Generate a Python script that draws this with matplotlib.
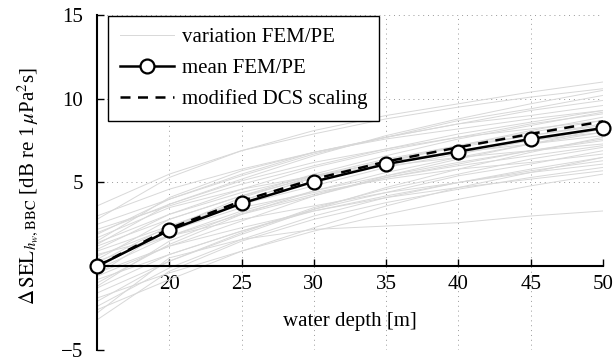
import matplotlib
matplotlib.use("Agg")
import matplotlib.pyplot as plt

plt.rcParams['font.family'] = ['Liberation Serif', 'DejaVu Serif']
plt.rcParams['mathtext.fontset'] = 'stix'
plt.rcParams['font.size'] = 15

# water depth [m]
depth = [15, 20, 25, 30, 35, 40, 45, 50]

# mean over all FEM/PE runs
mean_fem = [0.0, 2.15, 3.75, 5.05, 6.1, 6.85, 7.6, 8.25]

# modified DCS scaling
dcs = [0.0, 2.25, 3.9, 5.2, 6.25, 7.1, 7.9, 8.65]

# individual FEM/PE runs (variation)
variation = [
    [3.6, 5.5, 6.9, 8.1, 9.0, 9.7, 10.4, 11.0],
    [2.8, 5.3, 6.9, 7.9, 8.8, 9.5, 10.1, 10.6],
    [2.5, 4.0, 5.4, 6.7, 7.7, 8.7, 9.4, 10.2],
    [1.9, 4.0, 5.5, 6.8, 7.7, 8.5, 9.3, 9.9],
    [1.5, 4.1, 5.7, 6.8, 7.7, 8.5, 9.0, 9.6],
    [2.2, 3.6, 4.9, 6.0, 7.0, 7.9, 8.6, 9.3],
    [1.0, 3.1, 4.6, 5.9, 6.9, 7.7, 8.5, 9.1],
    [0.6, 2.3, 3.8, 5.1, 6.2, 7.2, 8.1, 8.9],
    [1.3, 3.7, 5.1, 6.2, 7.0, 7.7, 8.2, 8.7],
    [0.2, 2.4, 3.9, 5.3, 6.3, 7.1, 7.8, 8.5],
    [-0.5, 2.3, 4.1, 5.4, 6.4, 7.2, 7.8, 8.4],
    [0.9, 2.4, 3.7, 4.8, 5.9, 6.7, 7.5, 8.2],
    [-1.0, 1.3, 3.1, 4.5, 5.6, 6.5, 7.3, 8.0],
    [0.4, 2.8, 4.2, 5.3, 6.1, 6.8, 7.3, 7.8],
    [-1.6, 0.3, 1.9, 3.4, 4.7, 5.8, 6.8, 7.7],
    [-0.2, 1.8, 3.3, 4.5, 5.4, 6.2, 6.9, 7.5],
    [1.7, 3.5, 4.6, 5.4, 6.0, 6.5, 6.9, 7.3],
    [-2.1, 0.3, 2.0, 3.5, 4.6, 5.5, 6.4, 7.1],
    [-0.8, 0.7, 2.1, 3.4, 4.4, 5.4, 6.1, 6.9],
    [0.0, 2.1, 3.5, 4.4, 5.2, 5.8, 6.2, 6.7],
    [-2.6, -0.8, 0.9, 2.3, 3.6, 4.7, 5.6, 6.5],
    [-1.3, 0.7, 2.1, 3.3, 4.2, 5.0, 5.7, 6.3],
    [0.7, 1.8, 2.8, 3.6, 4.4, 5.0, 5.6, 6.1],
    [-3.2, -0.3, 1.5, 2.8, 3.8, 4.6, 5.3, 5.9],
    [-0.4, 1.2, 2.3, 3.3, 4.1, 4.7, 5.2, 5.7],
    [-1.9, -0.4, 0.9, 2.1, 3.1, 4.0, 4.8, 5.5],
    [-2.8, 0.5, 1.6, 2.2, 2.4, 2.6, 3.0, 3.3],
    [3.0, 4.6, 5.8, 6.8, 7.6, 8.2, 8.8, 9.3],
    [1.2, 2.8, 4.2, 5.5, 6.6, 7.6, 8.4, 9.2],
    [-0.1, 2.2, 3.9, 5.3, 6.3, 7.2, 8.0, 8.7],
    [0.3, 1.8, 3.1, 4.2, 5.3, 6.1, 6.9, 7.6],
    [-1.2, 1.5, 3.2, 4.3, 5.3, 6.0, 6.6, 7.2],
    [-2.4, -0.1, 1.6, 3.0, 4.1, 5.0, 5.8, 6.5],
    [1.4, 3.1, 4.4, 5.4, 6.2, 6.9, 7.5, 8.0],
    [-0.6, 1.2, 2.7, 4.2, 5.4, 6.4, 7.3, 8.2],
    [2.0, 3.7, 5.2, 6.6, 7.8, 8.8, 9.7, 10.5],
]

xticks = [15, 20, 25, 30, 35, 40, 45, 50]
xticklabels = ['', '20', '25', '30', '35', '40', '45', '50']
yticks = [-5, 0, 5, 10, 15]
yticklabels = ['\u22125', '', '5', '10', '15']

fig = plt.figure(figsize=(6.16, 3.64), dpi=100)
ax = fig.add_axes([0.1575, 0.0385, 0.8214, 0.9203])

for i, run in enumerate(variation):
    ax.plot(depth, run, color='#d8d8d8', lw=0.7,
            label='variation FEM/PE' if i == 0 else None, zorder=2)

ax.plot(depth, dcs, color='black', lw=1.8, ls=(0, (4, 3)),
        label='modified DCS scaling', zorder=4, clip_on=False)
ax.plot(depth, mean_fem, color='black', lw=1.8, marker='o', ms=10,
        mfc='white', mec='black', mew=1.6, label='mean FEM/PE',
        zorder=5, clip_on=False)

ax.set_xlim(15, 50)
ax.set_ylim(-5, 15)

ax.spines['top'].set_visible(False)
ax.spines['right'].set_visible(False)
ax.spines['bottom'].set_position(('data', 0))
ax.spines['bottom'].set_linewidth(1.5)
ax.spines['left'].set_linewidth(1.5)

ax.set_xticks(xticks)
ax.set_xticklabels(xticklabels)
ax.set_yticks(yticks)
ax.set_yticklabels(yticklabels)
ax.tick_params(axis='x', direction='in', length=5, width=1, pad=6)
ax.tick_params(axis='y', direction='in', length=5, width=1, pad=10)

ax.grid(True, color='#999999', ls=(0, (1, 4)), lw=0.7)

ax.set_xlabel('water depth [m]')
ax.xaxis.label.set_va('center')
ax.xaxis.set_label_coords(0.5, 0.085)

ax.set_ylabel(r'$\Delta\,\mathrm{SEL}_{h_w,\mathrm{BBC}}$ [dB re 1$\,\mu$Pa$^2$s]')
ax.yaxis.label.set_va('center')
ax.yaxis.set_label_coords(-0.135, 0.49)

handles, labels = ax.get_legend_handles_labels()
order = [0, 2, 1]
leg = ax.legend([handles[i] for i in order], [labels[i] for i in order],
                loc='upper left', bbox_to_anchor=(0.022, 0.997),
                borderaxespad=0, fancybox=False, framealpha=1,
                edgecolor='black', handlelength=2.6, handletextpad=0.4,
                labelspacing=0.55, borderpad=0.55)
leg.get_frame().set_linewidth(1.0)
leg.set_zorder(10)

fig.savefig('out.png', dpi=100)
